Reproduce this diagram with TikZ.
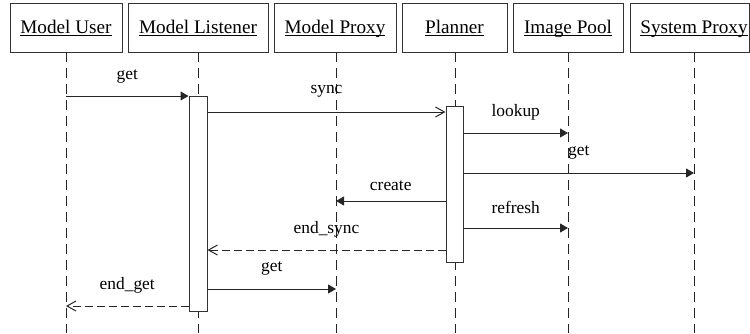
\documentclass[tikz,border=0pt]{standalone}
\usepackage{fontspec}
\setmainfont{Liberation Serif}
\usetikzlibrary{arrows.meta}
\newcommand\hdrtext[1]{\underline{\raisebox{0pt}[\height][0pt]{#1}}}
\begin{document}
\begin{tikzpicture}[x=0.5pt,y=-0.5pt,
  hdr/.style={draw=black!80, line width=0.5pt, minimum height=24.5pt, inner sep=0pt,
              text height=7pt, text depth=1.5pt,
              font=\fontsize{9.6}{11}\selectfont},
  act/.style={draw=black!80, fill=white, line width=0.5pt, inner sep=0pt},
  life/.style={draw=black!85, line width=0.5pt, dash pattern=on 5pt off 3pt},
  call/.style={draw=black!85, line width=0.5pt, -{Triangle[length=4pt,width=4.5pt]}},
  async/.style={draw=black!85, line width=0.5pt, -{Straight Barb[length=4.5pt,width=5pt]}},
  ret/.style={draw=black!85, line width=0.5pt, dash pattern=on 4pt off 2pt,
              -{Straight Barb[length=4.5pt,width=5pt]}},
  lbl/.style={font=\fontsize{8.7}{10}\selectfont, inner sep=0pt, midway, yshift=10.5pt}]
\useasboundingbox (0,0) rectangle (750,333);

% header boxes
\node[hdr, minimum width=56pt]   (u)  at (66,27.5)    {\hdrtext{Model User}};
\node[hdr, minimum width=70pt]   (l)  at (198,27.5)   {\hdrtext{Model Listener}};
\node[hdr, minimum width=61pt]   (p)  at (335,27.5)   {\hdrtext{Model Proxy}};
\node[hdr, minimum width=52.5pt] (pl) at (454.5,27.5) {\hdrtext{Planner}};
\node[hdr, minimum width=55pt]   (ip) at (568,27.5)   {\hdrtext{Image Pool}};
\node[hdr, minimum width=59.5pt] (sp) at (689.5,27.5) {\hspace*{4.5pt}\hdrtext{System Proxy}};

% lifelines
\coordinate (uT)  at (66,52);   \coordinate (uB)  at (66,333);
\coordinate (lT)  at (198,52);  \coordinate (lB)  at (198,333);
\coordinate (pT)  at (336,52);  \coordinate (pB)  at (336,333);
\coordinate (plT) at (455,52);  \coordinate (plB) at (455,333);
\coordinate (ipT) at (568,52);  \coordinate (ipB) at (568,333);
\coordinate (spT) at (694,52);  \coordinate (spB) at (694,333);
\draw[life] (uT) -- (uB);
\draw[life] (lT) -- (lB);
\draw[life] (pT) -- (pB);
\draw[life] (plT) -- (plB);
\draw[life] (ipT) -- (ipB);
\draw[life] (spT) -- (spB);

% activations
\node[act, minimum width=9pt, minimum height=107.5pt] (a1) at (198,203.5) {};
\node[act, minimum width=8.5pt, minimum height=78pt] (a2) at (454.5,184) {};

% messages
\coordinate (m1) at (66,96);
\draw[call] (m1) -- node[lbl, yshift=-0.5pt] {get} (a1.west |- m1);

\coordinate (m2) at (207,112);
\draw[async] (a1.east |- m2) -- node[lbl] {sync} (a2.west |- m2);

\coordinate (m3) at (463,133);
\draw[call] (a2.east |- m3) -- node[lbl] {lookup} (ipT |- m3);

\coordinate (m4) at (463,173);
\draw[call] (a2.east |- m4) -- node[lbl] {get} (spT |- m4);

\coordinate (m5) at (446,201);
\draw[call] (a2.west |- m5) -- node[lbl, yshift=-3pt] {create} (pT |- m5);

\coordinate (m6) at (463,228);
\draw[call] (a2.east |- m6) -- node[lbl] {refresh} (ipT |- m6);

\coordinate (m7) at (446,250);
\draw[ret] (a2.west |- m7) -- node[lbl] {end\_sync} (a1.east |- m7);

\coordinate (m8) at (207,289);
\draw[call] (a1.east |- m8) -- node[lbl] {get} (pT |- m8);

\coordinate (m9) at (189,306);
\draw[ret] (a1.west |- m9) -- node[lbl] {end\_get} (uT |- m9);
\end{tikzpicture}
\end{document}
